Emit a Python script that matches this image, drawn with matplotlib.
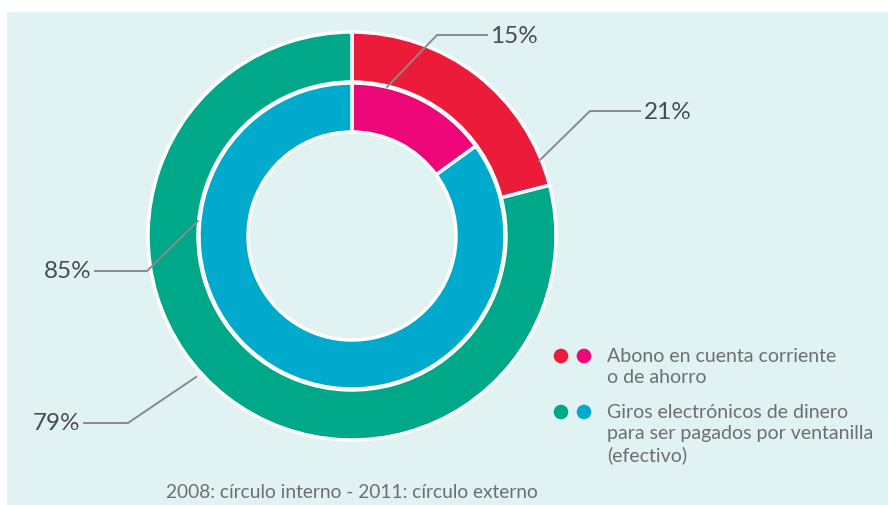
import matplotlib.pyplot as plt
from matplotlib.patches import Rectangle

plt.rcParams['font.family'] = ['Lato', 'DejaVu Sans']

# 2011 (outer ring) and 2008 (inner ring) shares
categorias = ['Abono en cuenta corriente\no de ahorro',
              'Giros electrónicos de dinero\npara ser pagados por ventanilla\n(efectivo)']
valores_2011 = [21, 79]
valores_2008 = [15, 85]
colores_2011 = ['#ED1B3A', '#00A88A']
colores_2008 = ['#EC0677', '#00AACD']
nota = '2008: círculo interno - 2011: círculo externo'

W, H = 888, 506
fondo = '#E0F2F2'
fig = plt.figure(figsize=(W / 100, H / 100), dpi=100, facecolor=fondo)
# white page margin on top and left of the panel
fig.patches.append(Rectangle((0, 1 - 13 / H), 1, 13 / H, transform=fig.transFigure,
                             facecolor='white', edgecolor='none', zorder=-5))
fig.patches.append(Rectangle((0, 0), 7 / W, 1, transform=fig.transFigure,
                             facecolor='white', edgecolor='none', zorder=-5))
ax = fig.add_axes([0, 0, 1, 1])
ax.patch.set_visible(False)


def py(y):
    # pixel row measured from the top -> data y
    return H - y


cx, cy = 352, py(237)
ax.pie(valores_2011, colors=colores_2011, radius=204, center=(cx, cy),
       startangle=90, counterclock=False, frame=True,
       wedgeprops=dict(width=50, edgecolor='white', linewidth=2.5))
ax.pie(valores_2008, colors=colores_2008, radius=153, center=(cx, cy),
       startangle=90, counterclock=False, frame=True,
       wedgeprops=dict(width=49, edgecolor='white', linewidth=2.5))
ax.set_aspect('auto')
ax.set_xlim(0, W)
ax.set_ylim(0, H)
ax.axis('off')

linea = dict(color='#8a8a8a', lw=1.4, zorder=5)
txt = dict(fontsize=17.5, color='#4a4a58', va='center', zorder=6)

# leader lines and labels
ax.plot([387, 437, 487], [py(88), py(36), py(36)], **linea)
ax.text(490, py(36), f'{valores_2008[0]}%', ha='left', **txt)

ax.plot([539, 590, 640], [py(162), py(112), py(112)], **linea)
ax.text(644, py(112), f'{valores_2011[0]}%', ha='left', **txt)

ax.plot([198, 147, 95], [py(222), py(272), py(272)], **linea)
ax.text(91, py(272), f'{valores_2008[1]}%', ha='right', **txt)

ax.plot([196, 128, 84], [py(378), py(424), py(424)], **linea)
ax.text(80, py(424), f'{valores_2011[1]}%', ha='right', **txt)

# legend
leg_y = [357, 413]
for i, cat in enumerate(categorias):
    ax.scatter([561, 584], [py(leg_y[i])] * 2, s=110,
               color=[colores_2011[i], colores_2008[i]], zorder=6, linewidths=0)
    ax.text(607, py(leg_y[i] - 9), cat, ha='left', va='top', fontsize=14,
            color='#6e6e72', linespacing=1.3, zorder=6)

ax.text(352, py(493), nota, ha='center', va='center', fontsize=13.8, color='#6e6e72')

fig.savefig('out.png', dpi=100, facecolor=fondo)
